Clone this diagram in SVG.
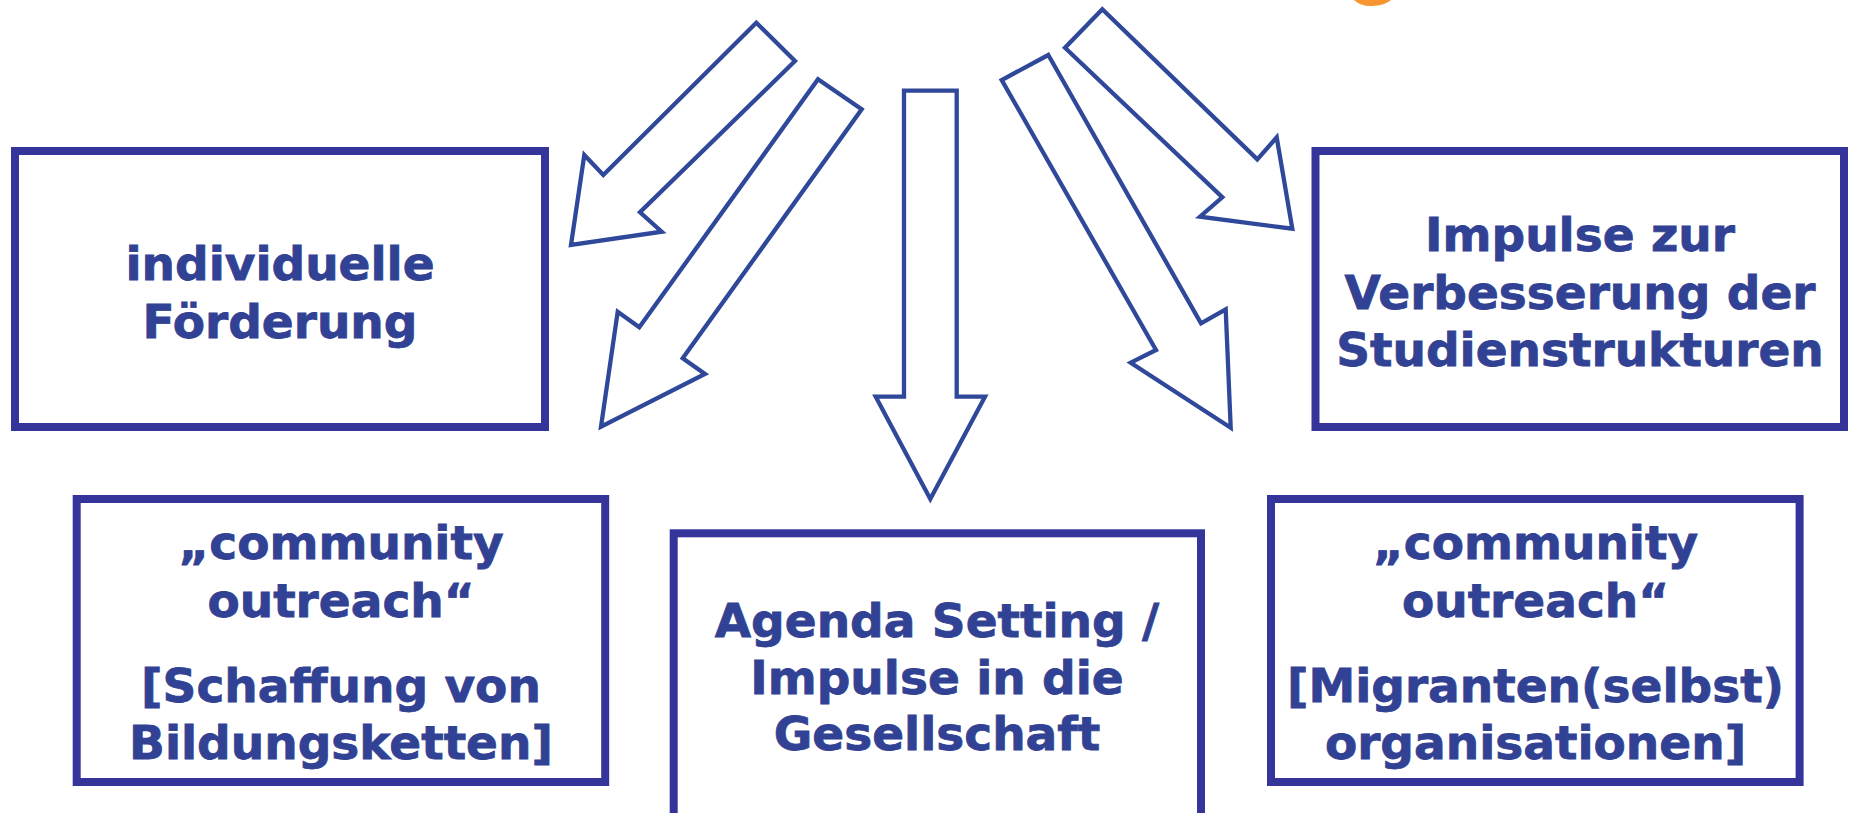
<svg xmlns="http://www.w3.org/2000/svg" width="1850" height="813" viewBox="0 0 1850 813">
<style>
.box{fill:#ffffff;stroke:#35349a;stroke-width:8}
.arr{fill:#ffffff;stroke:#2f4899;stroke-width:4.3;stroke-linejoin:miter}
.t{font-family:"DejaVu Sans","Liberation Sans",sans-serif;font-weight:bold;font-size:47px;fill:#314193;stroke:#314193;stroke-width:0.8;text-anchor:middle}
</style>
<rect width="1850" height="813" fill="#ffffff"/>
<path d="M1354,0 Q1361,6.5 1372,6 Q1385,5.5 1391,0 Z" fill="#f7962f"/>
<g id="connectors">
<polygon class="arr" points="756.3,22.7 795,61 640,212.3 661.7,231.7 571,245 584.3,155 603.3,175"/>
<polygon class="arr" points="818,79.3 861.7,109.3 682.7,358.3 705,374 601,426.7 617.7,311.7 639.3,327.3"/>
<polygon class="arr" points="904,90.7 956.7,90.7 956.7,396.7 985,396.7 930.3,499 875.7,396.7 904,396.7"/>
<polygon class="arr" points="1048.3,55 1201,323.3 1225.7,309.3 1230.7,427.7 1130.7,362.7 1156,350 1001.7,80"/>
<polygon class="arr" points="1102.3,9.3 1257.3,159.3 1276.7,137.3 1292.3,228.7 1200,216.7 1222.3,197.3 1065,47.7"/>
</g>
<g id="node-individuelle">
<rect class="box" x="15" y="151" width="530" height="276"/>
<text class="t" x="280" y="280">individuelle</text>
<text class="t" x="280" y="338">Förderung</text>
</g>
<g id="node-impulse-studien">
<rect class="box" x="1315.5" y="151" width="528.5" height="276"/>
<text class="t" x="1580" y="251">Impulse zur</text>
<text class="t" x="1580" y="309">Verbesserung der</text>
<text class="t" x="1580" y="366">Studienstrukturen</text>
</g>
<g id="node-outreach-bildung">
<rect class="box" x="76.7" y="499" width="528.5" height="283"/>
<text class="t" x="341" y="559">„community</text>
<text class="t" x="341" y="617">outreach“</text>
<text class="t" x="341" y="702">[Schaffung von</text>
<text class="t" x="341" y="759">Bildungsketten]</text>
</g>
<g id="node-agenda">
<rect class="box" x="673.7" y="533.3" width="527.3" height="284"/>
<text class="t" x="937" y="637">Agenda Setting /</text>
<text class="t" x="937" y="694">Impulse in die</text>
<text class="t" x="937" y="750">Gesellschaft</text>
</g>
<g id="node-outreach-migranten">
<rect class="box" x="1271" y="499" width="528.6" height="283"/>
<text class="t" x="1535.5" y="559">„community</text>
<text class="t" x="1535.5" y="617">outreach“</text>
<text class="t" x="1535.5" y="702">[Migranten(selbst)</text>
<text class="t" x="1535.5" y="759">organisationen]</text>
</g>
</svg>
